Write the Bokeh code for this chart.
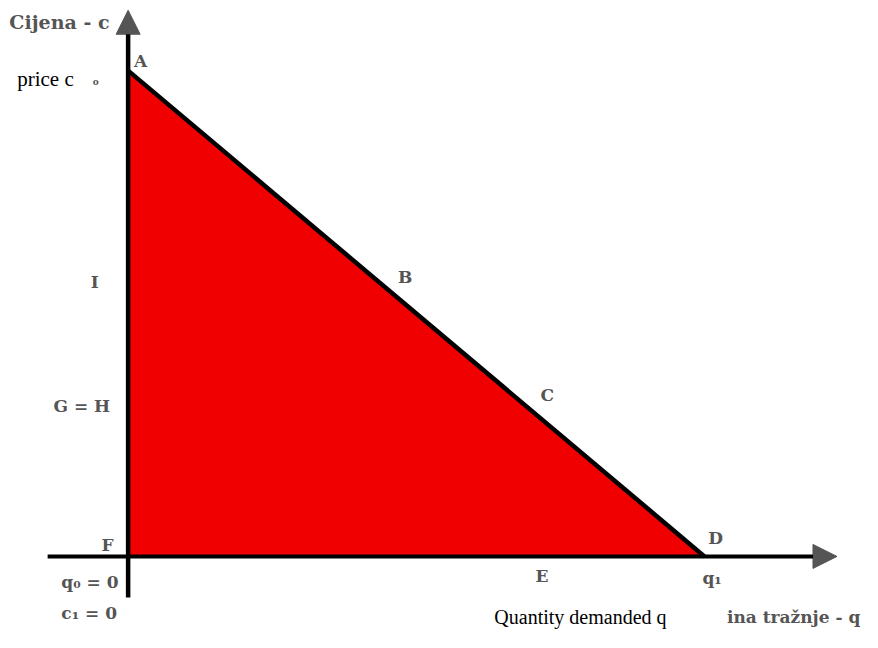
from bokeh.plotting import figure
from bokeh.models import Range1d, Arrow, NormalHead
from bokeh.core.properties import value
from bokeh.embed import file_html
from bokeh.resources import INLINE

# Demand line: from (q0, c0) to (q1, c1)
quantity = [0.0, 10.0]     # q0 = 0, q1
price = [8.5, 0.0]         # c0, c1 = 0

# reference-pixel -> data helpers (for annotation placement only)
UX = 58.7
UY = 58.6
OX = 130.0
OY = 570.0
def qx(X):
    return (X - OX) / UX
def cy(Y):
    return (OY - Y) / UY

W, H = 862, 632
p = figure(width=W, height=H, output_backend="svg", toolbar_location=None,
           x_range=Range1d(qx(0), qx(878)), y_range=Range1d(cy(648), cy(0)),
           min_border=0)
p.axis.visible = False
p.grid.visible = False
p.outline_line_color = None
p.background_fill_color = "white"

# red triangle under the demand line
tri_x = [quantity[0], quantity[0], quantity[1]]
tri_y = [price[0], price[1], price[1]]
p.patch(tri_x, tri_y, fill_color="#f00000", line_color=None)
p.line(quantity, price, line_color="black", line_width=4.5)

# axes with arrows
p.add_layout(Arrow(end=NormalHead(size=24, fill_color="#555555", line_color="#555555"),
                   x_start=qx(48), y_start=0, x_end=qx(852), y_end=0,
                   line_color="black", line_width=4))
p.add_layout(Arrow(end=NormalHead(size=24, fill_color="#555555", line_color="#555555"),
                   x_start=0, y_start=cy(612), x_end=0, y_end=cy(10),
                   line_color="black", line_width=4.5))

gray = "#555555"
serif = value("DejaVu Serif")

def lab(text, X, Y, size="17px", color=gray, font=serif, style="bold", align="left"):
    p.text(x=[qx(X)], y=[cy(Y)], text=[text], text_font=font, text_font_size=size,
           text_color=color, text_font_style=style, text_align=align,
           text_baseline="middle")

lab("Cijena - c", 9, 22, size="19px")
lab("price c", 17, 80, size="21px", color="black", font=value("Liberation Serif"), style="normal")
lab("o", 94, 84, size="9px")
lab("A", 136, 62)
lab("B", 405, 283)
lab("C", 550, 404)
lab("D", 721, 551)
lab("E", 545, 590)
lab("F", 103, 558)
lab("I", 92, 289)
lab("G = H", 54, 416)
lab("q\u2080 = 0", 62, 596)
lab("c\u2081 = 0", 62, 628)
lab("q\u2081", 715, 592)
lab("Quantity demanded q", 503, 632, size="20px", color="black", font=value("Liberation Serif"), style="normal")
lab("ina tražnje - q", 740, 632, size="17px")

open("out.html", "w").write(file_html(p, INLINE))
